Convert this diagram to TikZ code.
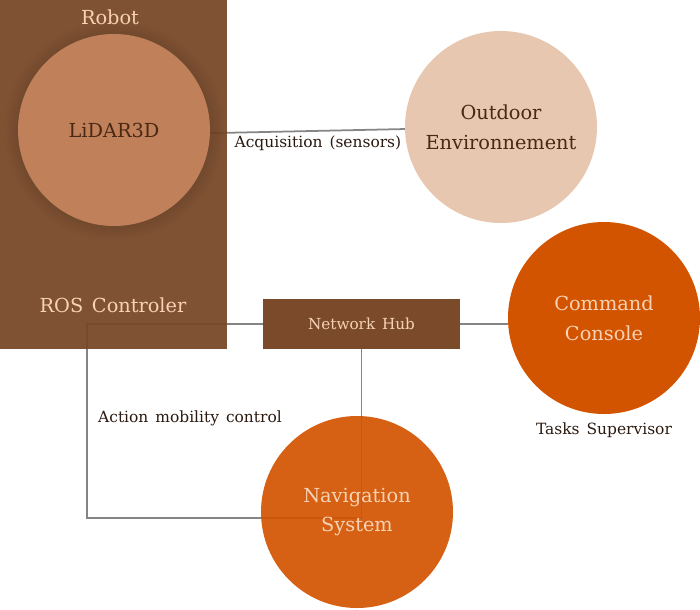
\documentclass[tikz,border=0pt]{standalone}
\usepackage{fontspec}
\setmainfont{DejaVu Serif}
\usetikzlibrary{positioning,shadows,backgrounds}

\definecolor{robotbrown}{HTML}{774726}
\definecolor{hubbrown}{HTML}{723F1D}
\definecolor{lidarfill}{HTML}{C0805A}
\definecolor{outdoorfill}{HTML}{E8C7B0}
\definecolor{consolefill}{HTML}{D35400}
\definecolor{peach}{HTML}{F7D2B4}
\definecolor{darkbrown}{HTML}{4A2814}
\definecolor{inkbrown}{HTML}{2B1A10}

\newcommand{\bigtext}{\fontsize{16.5}{25.5}\selectfont\spaceskip=0.45em\relax}
\newcommand{\smalltext}{\fontsize{13.2}{15}\selectfont\spaceskip=0.45em\relax}
\newcommand{\hubtext}{\fontsize{13}{15}\selectfont\spaceskip=0.45em\relax}

\begin{document}
\begin{tikzpicture}[x=0.03cm,y=-0.03cm]
      \useasboundingbox (0,0) rectangle (700,609);
      \begin{scope}[every node/.style={rectangle,inner sep=0pt,text opacity=1}]
        \node[fill=robotbrown,fill opacity=0.94,minimum width=6.81cm,minimum height=10.47cm] (robot) at (113.5,174.5) {};
        \node[fill=hubbrown,fill opacity=0.94,minimum width=5.91cm,minimum height=1.5cm,text=peach,font=\hubtext] (hub) at (361.5,324) {Network Hub};
      \end{scope}
      \node[text=peach,font=\bigtext] (robottitle) at (110,17) {Robot};
      \node[text=peach,font=\bigtext] (roslabel) at (113,305) {ROS Controler};
      \begin{scope}[every node/.style={circle,minimum size=5.76cm,inner sep=0pt,align=center,font=\bigtext,text opacity=1}]
        \node[fill=lidarfill,text=darkbrown,circular drop shadow={shadow xshift=0pt,shadow yshift=0pt,shadow scale=1.15,opacity=0.15,fill=black,path fading=circle with fuzzy edge 20 percent}] (lidar) at (114,130) {LiDAR3D};
        \node[fill=outdoorfill,text=darkbrown] (outdoor) at (501,127) {Outdoor\\Environnement};
        \node[fill=consolefill,text=peach] (command) at (604,318) {Command\\Console};
        \node[fill=consolefill,fill opacity=0.92,text=peach] (navig) at (357,512) {Navigation\\System};
      \end{scope}
      \node[below=0.12cm of command,font=\smalltext,text=inkbrown] (tasks) {Tasks Supervisor};
      \node[font=\smalltext,text=inkbrown] (mobility) at (190,418) {Action mobility control};
      \coordinate (lidarport) at (170,134);
      \coordinate (bendtop) at (87,324);
      \coordinate (bendlow) at (87,518);
      \begin{scope}[on background layer,every edge/.style={draw=black!48,line width=1.5pt}]
        \path (lidarport) edge node[below,pos=0.63,font=\smalltext,text=inkbrown] (acq) {Acquisition (sensors)} (outdoor);
        \path (hub.east) edge (hub.east -| command.west);
        \draw[black!48,line width=1.5pt] (hub.west) -- (bendtop) -- (bendlow) -| (hub.south);
      \end{scope}
    \end{tikzpicture}
\end{document}
